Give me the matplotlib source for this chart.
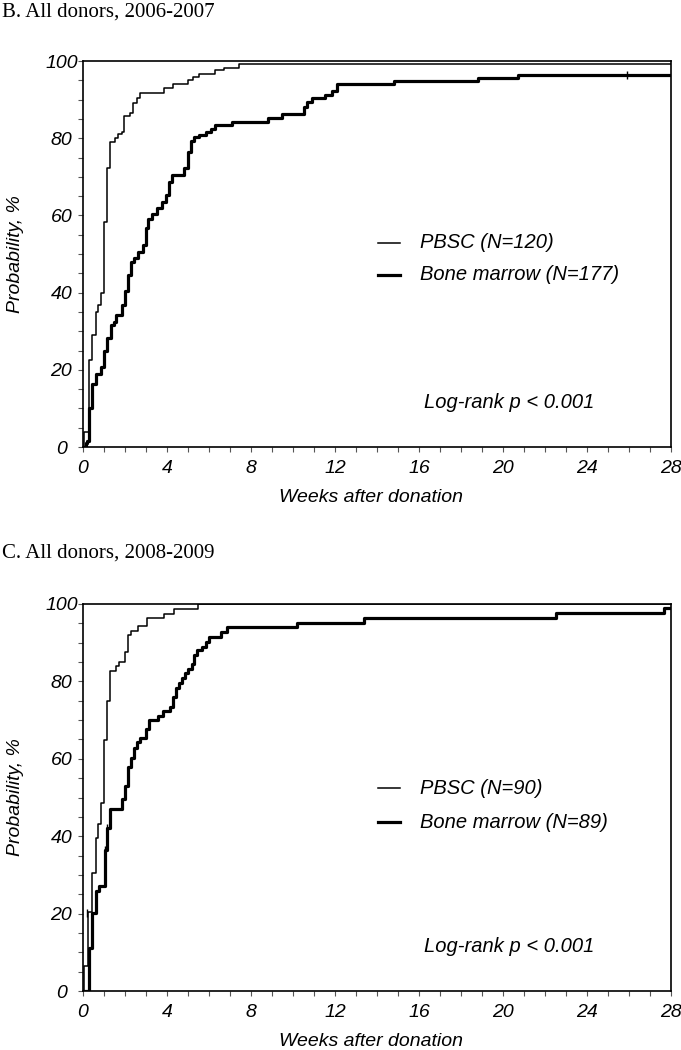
import matplotlib
matplotlib.use('Agg')
import matplotlib.pyplot as plt
from matplotlib.ticker import MultipleLocator

# Panel B: all donors, 2006-2007 (weeks, cumulative probability %)
b_pbsc_t = [0, 0.05, 0.3, 0.44, 0.6, 0.73, 0.86, 1.0, 1.13, 1.29, 1.52, 1.68, 1.84, 1.97,
            2.24, 2.4, 2.56, 2.71, 3.86, 4.3, 4.98, 5.25, 5.54, 6.29, 6.71, 7.44, 28]
b_pbsc_p = [0, 4, 22.5, 29, 35, 36.7, 40, 58.4, 72.4, 79, 80, 81, 81.7, 85.8,
            86.6, 89, 90.5, 91.6, 92.9, 94.1, 95.1, 95.9, 96.7, 97.6, 98.3, 99.2, 99.2]
b_bm_t = [0, 0.14, 0.2, 0.3, 0.44, 0.6, 0.86, 1.01, 1.16, 1.32, 1.49, 1.57, 1.87, 2.0,
          2.16, 2.29, 2.44, 2.63, 2.84, 2.98, 3.11, 3.27, 3.5, 3.78, 3.94, 4.1, 4.25,
          4.82, 4.98, 5.14, 5.3, 5.54, 5.84, 6.08, 6.29, 7.08, 8.83, 9.46, 10.5, 10.65,
          10.9, 11.5, 11.85, 12.1, 14.8, 18.8, 20.7, 28]
b_bm_p = [0, 1, 1.6, 10, 16.2, 18.9, 20.8, 24.9, 28.3, 31.5, 32.4, 34.3, 36.7, 40.3,
          44.6, 47.9, 48.9, 50.5, 52.4, 56.7, 59.1, 60.4, 61.9, 63.4, 65.4, 68.7, 70.5,
          72.2, 76.3, 79.3, 80.2, 80.9, 81.7, 82.5, 83.5, 84.1, 85.2, 86.2, 88.1, 89.5,
          90.3, 91.2, 92.2, 94.0, 94.8, 95.7, 96.5, 96.5]
b_bm_cens_t = [25.9]
b_bm_cens_p = [96.5]

# Panel C: all donors, 2008-2009
c_pbsc_t = [0, 0.05, 0.25, 0.44, 0.62, 0.73, 0.86, 1.01, 1.16, 1.29, 1.57, 1.73, 2.0,
            2.16, 2.29, 2.6, 3.03, 3.87, 4.33, 5.46, 28]
c_pbsc_p = [0, 6.5, 20.3, 30.4, 39.5, 43.1, 48.7, 64.9, 74.9, 82.8, 84.1, 85.1, 87.5,
            92, 93, 94.3, 96.5, 97.5, 98.7, 100, 100]
c_bm_t = [0, 0.3, 0.44, 0.62, 0.78, 1.05, 1.16, 1.29, 1.87, 2.0, 2.16, 2.29, 2.43, 2.56,
          2.71, 2.98, 3.14, 3.56, 3.83, 4.14, 4.27, 4.41, 4.57, 4.7, 4.86, 5.01, 5.18,
          5.3, 5.44, 5.68, 5.84, 6.02, 6.56, 6.84, 10.17, 13.38, 22.5, 27.67, 28]
c_bm_p = [0, 11.2, 20.1, 25.8, 27.1, 36.4, 42.2, 47, 49.5, 53, 58, 60.1, 62.7, 64.3,
          65.3, 67.6, 70, 71.1, 72.4, 73.3, 76, 78.4, 79.5, 80.8, 82.1, 83.2, 84.6,
          86.8, 88.1, 89, 90.3, 91.6, 92.7, 94, 95.2, 96.3, 97.6, 98.9, 98.9]
c_bm_cens_t = [0.2, 1.05, 1.16]
c_bm_cens_p = [20.1, 36.4, 42.2]

panels = [
    ('B. All donors, 2006-2007', b_pbsc_t, b_pbsc_p, b_bm_t, b_bm_p,
     b_bm_cens_t, b_bm_cens_p, 'PBSC (N=120)', 'Bone marrow (N=177)'),
    ('C. All donors, 2008-2009', c_pbsc_t, c_pbsc_p, c_bm_t, c_bm_p,
     c_bm_cens_t, c_bm_cens_p, 'PBSC (N=90)', 'Bone marrow (N=89)'),
]

W, H = 681, 1050
fig = plt.figure(figsize=(W / 100, H / 100), dpi=100)
sans = ['Liberation Sans', 'DejaVu Sans']
serif = ['Liberation Serif', 'DejaVu Serif']

# pixel boxes: (left, top, right, bottom) of each plot area, title y, legend row y's
boxes = [(83, 61, 671, 447, 12, (243, 275)), (83, 604, 671, 991, 553, (788, 822))]

for (title, pt, pp, bt, bp, ct, cp, lab1, lab2), (l, t, r, b, ty, ly) in zip(panels, boxes):
    ax = fig.add_axes([l / W, 1 - b / H, (r - l) / W, (b - t) / H])
    ax.step(pt, pp, where='post', color='black', lw=1.1)
    ax.step(bt, bp, where='post', color='black', lw=2.3)
    ax.plot(ct, cp, ls='none', marker='|', ms=6, mew=1, color='black')

    ax.set_xlim(0, 28)
    ax.set_ylim(0, 100)
    ax.xaxis.set_major_locator(MultipleLocator(4))
    ax.xaxis.set_minor_locator(MultipleLocator(1))
    ax.yaxis.set_major_locator(MultipleLocator(20))
    ax.yaxis.set_minor_locator(MultipleLocator(5))
    ax.tick_params(which='both', direction='out', length=3.5, width=0.8,
                   color='#555555', labelsize=14)
    ax.tick_params(axis='x', pad=6)
    ax.tick_params(axis='y', pad=12)
    for lbl in ax.get_xticklabels() + ax.get_yticklabels():
        lbl.set_family(sans)
        lbl.set_style('italic')
    for lbl in ax.get_yticklabels():
        lbl.set_horizontalalignment('center')
    for s in ax.spines.values():
        s.set_linewidth(1.2)
        s.set_color('black')

    # legend drawn by hand to match the original placement
    for y_px, lw, lab in zip(ly, (1.1, 2.3), (lab1, lab2)):
        yf = (b - y_px) / (b - t)
        ax.plot([0.502, 0.539], [yf, yf], transform=ax.transAxes, color='black', lw=lw)
        ax.text(0.573, yf, lab, transform=ax.transAxes, family=sans, style='italic',
                fontsize=14.5, va='center', ha='left')
    ax.text(0.58, 0.115, 'Log-rank p < 0.001', transform=ax.transAxes,
            family=sans, style='italic', fontsize=14.5, va='center', ha='left')

    fig.text(16 / W, 1 - ((t + b) / 2) / H, 'Probability, %', rotation=90,
             family=sans, style='italic', fontsize=14, ha='center', va='center')
    fig.text(((l + r) / 2 - 6) / W, 1 - (b + 50) / H, 'Weeks after donation',
             family=sans, style='italic', fontsize=14, ha='center', va='center')
    fig.text(2 / W, 1 - ty / H, title, family=serif, fontsize=15,
             ha='left', va='center')

fig.savefig('out.png', dpi=100)
